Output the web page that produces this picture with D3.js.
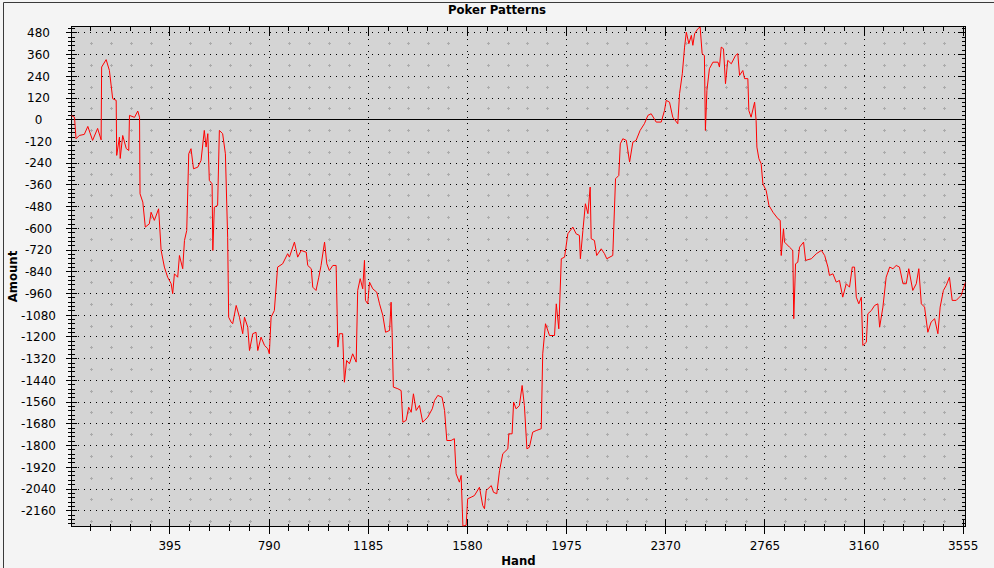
<!DOCTYPE html>
<html>
<head>
<meta charset="utf-8">
<script src="https://cdn.jsdelivr.net/npm/d3@7"></script>
<style>
html,body{margin:0;padding:0;background:#f4f4f4;}
svg{display:block;}
</style>
</head>
<body>
<script>
// ---- data ----
const title = "Poker Patterns";
const xLabel = "Hand";
const yLabel = "Amount";
const xTickValues = [395, 790, 1185, 1580, 1975, 2370, 2765, 3160, 3555];
const yTickValues = [480, 360, 240, 120, 0, -120, -240, -360, -480, -600, -720, -840, -960, -1080, -1200, -1320, -1440, -1560, -1680, -1800, -1920, -2040, -2160];
const xDomain = [3, 3564];
const yDomain = [-2247, 515];
const hands = [1,15,21,34,54,68,87,107,121,123,141,154,167,181,183,194,197,207,221,231,234,254,267,274,276,287,297,313,320,333,350,360,373,386,400,406,413,426,433,446,453,462,470,479,489,506,519,532,539,546,552,563,566,572,585,592,605,616,625,629,639,645,659,672,685,692,705,712,725,738,745,758,772,785,791,798,811,824,844,864,871,891,904,918,938,944,958,964,977,988,997,1011,1020,1030,1044,1057,1064,1070,1083,1090,1099,1110,1123,1137,1143,1153,1163,1170,1174,1183,1190,1203,1219,1230,1243,1254,1270,1276,1280,1285,1303,1316,1323,1336,1346,1356,1365,1376,1389,1402,1422,1440,1449,1462,1479,1489,1498,1515,1528,1535,1548,1555,1562,1575,1581,1595,1608,1628,1641,1648,1655,1675,1684,1697,1708,1721,1741,1745,1758,1764,1774,1787,1798,1807,1817,1827,1840,1854,1874,1880,1891,1907,1927,1934,1944,1954,1967,1980,2000,2013,2026,2030,2040,2050,2060,2069,2073,2086,2095,2113,2126,2135,2159,2170,2183,2189,2199,2213,2226,2239,2252,2268,2285,2299,2312,2332,2352,2365,2372,2385,2398,2418,2425,2436,2445,2452,2462,2472,2478,2485,2498,2507,2515,2524,2528,2534,2544,2558,2578,2584,2591,2600,2608,2617,2631,2648,2657,2664,2677,2684,2697,2701,2710,2724,2730,2733,2741,2750,2757,2770,2781,2797,2817,2826,2830,2839,2843,2863,2876,2880,2887,2896,2903,2919,2927,2950,2970,2990,3003,3016,3022,3036,3049,3062,3075,3089,3102,3113,3122,3129,3139,3149,3155,3169,3175,3189,3202,3215,3222,3235,3248,3262,3275,3288,3301,3315,3328,3338,3354,3368,3378,3388,3401,3414,3427,3441,3454,3463,3476,3487,3500,3511,3527,3547,3564];
const amounts = [24,14,-105,-87,-81,-37,-114,-48,-111,291,332,272,116,107,-197,-96,-214,-87,-159,-170,24,13,48,14,-409,-455,-593,-575,-511,-556,-492,-722,-814,-870,-906,-961,-851,-870,-750,-823,-667,-612,-188,-160,-271,-262,-225,-59,-151,-77,-335,-354,-722,-483,-473,-59,-77,-188,-649,-1091,-1118,-1127,-1026,-1091,-1182,-1091,-1146,-1275,-1182,-1174,-1275,-1201,-1247,-1265,-1293,-1091,-1054,-814,-796,-740,-759,-676,-759,-722,-732,-805,-823,-925,-943,-870,-805,-676,-796,-833,-805,-805,-1256,-1182,-1182,-1450,-1330,-1348,-1293,-1339,-943,-878,-934,-777,-998,-1017,-897,-934,-953,-1017,-1081,-1174,-1164,-1008,-1174,-1477,-1486,-1496,-1671,-1661,-1588,-1616,-1514,-1606,-1578,-1671,-1643,-1597,-1551,-1523,-1533,-1606,-1772,-1772,-1762,-1956,-2002,-1965,-2245,-2240,-2094,-2085,-2076,-2030,-2131,-2149,-2048,-2021,-2058,-2066,-1938,-1845,-1818,-1735,-1735,-1560,-1597,-1579,-1468,-1579,-1818,-1809,-1726,-1717,-1707,-1293,-1127,-1192,-1192,-1017,-1155,-768,-759,-630,-593,-630,-639,-768,-612,-464,-519,-372,-657,-667,-750,-713,-740,-768,-750,-326,-308,-133,-105,-114,-234,-124,-114,-59,-22,24,33,-13,-13,51,107,97,14,-22,144,254,401,484,420,466,411,475,503,512,365,355,-59,162,282,318,318,291,401,392,199,328,309,355,365,245,272,227,227,51,14,97,-4,-151,-215,-243,-354,-391,-473,-511,-547,-556,-750,-602,-676,-704,-722,-1099,-796,-787,-704,-676,-777,-768,-740,-722,-750,-814,-860,-851,-897,-888,-980,-906,-925,-814,-814,-980,-1017,-980,-1247,-1229,-1072,-1054,-1026,-1017,-1146,-1035,-870,-814,-823,-805,-814,-906,-906,-823,-943,-906,-823,-1017,-1035,-1174,-1118,-1099,-1182,-1035,-943,-916,-870,-998,-998,-970,-897];
const xMinorStep = 79;
const yMinorStep = 24;

// ---- drawing ----
const W = 994, H = 568;
const L = 71.5, R = 965.5, T = 26.5, B = 526.5;
const svg = d3.select("body").append("svg").attr("width", W).attr("height", H);
svg.append("rect").attr("width", W).attr("height", H).attr("fill", "#f4f4f4");
// outer frame (top and left visible)
svg.append("path").attr("d", `M3.5,${H} V2.5 H${W}`).attr("fill", "none").attr("stroke", "#3a3a3a");

const x = d3.scaleLinear().domain(xDomain).range([L, R]);
const y = d3.scaleLinear().domain(yDomain).range([B, T]);
const px = v => Math.round(x(v) - 0.5) + 0.5;
const py = v => Math.round(y(v) - 0.5) + 0.5;

svg.append("rect").attr("x", L).attr("y", T).attr("width", R - L).attr("height", B - T).attr("fill", "#d4d4d4");

const g = svg.append("g").attr("shape-rendering", "crispEdges");

// faint minor grid crosses
const minorXs = d3.range(xMinorStep, xDomain[1], xMinorStep).filter(v => v % 395 !== 0);
const midYs = yTickValues.map(v => v - 60).concat([yTickValues[0] + 60]).filter(v => v > yDomain[0] && v < yDomain[1]);
const cross = g.append("g").attr("stroke", "#ababab");
minorXs.forEach(xv => midYs.forEach(yv => {
  const cx = px(xv), cy = py(yv);
  cross.append("line").attr("x1", cx - 1).attr("x2", cx + 2).attr("y1", cy).attr("y2", cy);
  cross.append("line").attr("x1", cx + 0.5).attr("x2", cx + 0.5).attr("y1", cy - 1.5).attr("y2", cy + 1.5);
}));

// dotted major grid
g.append("g").selectAll("line").data(yTickValues.filter(v => v !== 0)).join("line")
  .attr("x1", L).attr("x2", R).attr("y1", d => py(d)).attr("y2", d => py(d))
  .attr("stroke", "#000").attr("stroke-dasharray", "1,5");
g.append("g").selectAll("line").data(xTickValues.filter(v => v < xDomain[1] - 20)).join("line")
  .attr("y1", T).attr("y2", B).attr("x1", d => px(d)).attr("x2", d => px(d))
  .attr("stroke", "#000").attr("stroke-dasharray", "1,5");
// zero line
g.append("line").attr("x1", L).attr("x2", R).attr("y1", py(0)).attr("y2", py(0)).attr("stroke", "#000");

// data line
svg.append("clipPath").attr("id", "clip").append("rect").attr("x", L).attr("y", T).attr("width", R - L).attr("height", B - T);
const pts = hands.map((h, i) => [h, amounts[i]]);
svg.append("path").datum(pts)
  .attr("clip-path", "url(#clip)")
  .attr("fill", "none").attr("stroke", "#ff0000").attr("stroke-width", 1)
  .attr("d", d3.line().x(d => x(d[0])).y(d => y(d[1])));

// plot frame
g.append("rect").attr("x", L).attr("y", T).attr("width", R - L).attr("height", B - T).attr("fill", "none").attr("stroke", "#000");

// ticks
const xMinors = d3.range(xMinorStep, xDomain[1], xMinorStep);
const yMinors = d3.range(Math.ceil(yDomain[0] / yMinorStep) * yMinorStep, yDomain[1], yMinorStep);
const tk = g.append("g").attr("stroke", "#000");
xMinors.forEach(v => {
  const major = v % 395 === 0;
  const cx = px(v);
  tk.append("line").attr("x1", cx).attr("x2", cx).attr("y1", B - (major ? 8 : 3)).attr("y2", B + (major ? 7 : 4));
  tk.append("line").attr("x1", cx).attr("x2", cx).attr("y1", T).attr("y2", T + (major ? 9 : 4));
});
yMinors.forEach(v => {
  const major = v % 120 === 0;
  const cy = py(v);
  tk.append("line").attr("y1", cy).attr("y2", cy).attr("x1", L - (major ? 6 : 4)).attr("x2", L + (major ? 5 : 3));
  tk.append("line").attr("y1", cy).attr("y2", cy).attr("x1", R - (major ? 8 : 4)).attr("x2", R);
});

// tick labels
const font = "'DejaVu Sans', sans-serif";
svg.append("g").selectAll("text").data(yTickValues).join("text")
  .attr("x", 38.5).attr("y", d => y(d)).attr("dy", "0.36em")
  .attr("text-anchor", "middle").attr("font-family", font).attr("font-size", 12).attr("fill", "#000")
  .text(d => String(d));
svg.append("g").selectAll("text").data(xTickValues).join("text")
  .attr("x", d => x(d)).attr("y", 550)
  .attr("text-anchor", "middle").attr("font-family", font).attr("font-size", 12).attr("fill", "#000")
  .text(d => String(d));

// titles
svg.append("text").attr("x", W / 2).attr("y", 14).attr("text-anchor", "middle")
  .attr("font-family", font).attr("font-weight", "bold").attr("font-size", 11.7).text(title);
svg.append("text").attr("x", (L + R) / 2).attr("y", 565).attr("text-anchor", "middle")
  .attr("font-family", font).attr("font-weight", "bold").attr("font-size", 11.7).text(xLabel);
svg.append("text").attr("transform", `translate(16.5,${(T + B) / 2}) rotate(-90)`).attr("text-anchor", "middle")
  .attr("font-family", font).attr("font-weight", "bold").attr("font-size", 11.7).text(yLabel);
</script>
</body>
</html>
